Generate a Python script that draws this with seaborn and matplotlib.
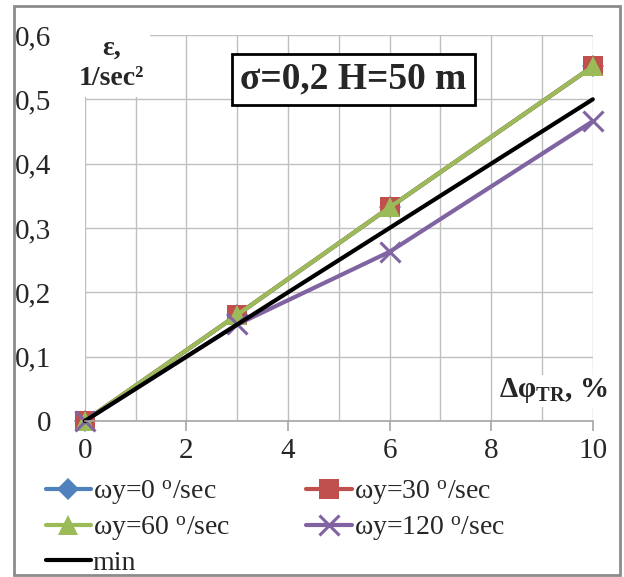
import numpy as np
import pandas as pd
import matplotlib
matplotlib.use("Agg")
import matplotlib.pyplot as plt
from matplotlib.ticker import FuncFormatter, MultipleLocator
from matplotlib.patches import Rectangle
import seaborn as sns

# ---- data ----
x_vals = [0, 3, 6, 10]
series_names = ["ωy=0 $^{\\mathrm{o}}$/sec", "ωy=30 $^{\\mathrm{o}}$/sec",
                "ωy=60 $^{\\mathrm{o}}$/sec", "ωy=120 $^{\\mathrm{o}}$/sec", "min"]
w0 = [0, 0.165, 0.332, 0.551]
w30 = [0, 0.165, 0.332, 0.551]
w60 = [0, 0.165, 0.332, 0.551]
w120 = [0, 0.150, 0.263, 0.466]
w_min = [0, 0.150, 0.300, 0.500]
x_ticks = [0, 2, 4, 6, 8, 10]
y_ticks = [0, 0.1, 0.2, 0.3, 0.4, 0.5, 0.6]

sns.set_style("white")
plt.rcParams['font.family'] = ['Liberation Serif', 'DejaVu Serif']
plt.rcParams['mathtext.fontset'] = 'custom'
plt.rcParams['mathtext.rm'] = 'Liberation Serif'
plt.rcParams['mathtext.it'] = 'Liberation Serif:italic'
plt.rcParams['mathtext.bf'] = 'Liberation Serif:bold'

df = pd.DataFrame({
    "x": x_vals * 5,
    "y": w0 + w30 + w60 + w120 + w_min,
    "series": sum([[n] * len(x_vals) for n in series_names], []),
})

colors = ["#4F81BD", "#C0504D", "#9BBB59", "#8064A2", "#000000"]
markers = ["D", "s", "^", "x", None]
msizes = [11, 14, 15, 15, 0]

fig = plt.figure(figsize=(6.24, 5.77), dpi=100)
ax = fig.add_axes([0.136, 0.2704, 0.814, 0.669])

handles = []
for name, c, m, ms in zip(series_names, colors, markers, msizes):
    sub = df[df["series"] == name]
    kw = dict(marker=m, markersize=ms) if m else {}
    if m == "x":
        kw["markeredgewidth"] = 2.2
        kw["markeredgecolor"] = c
    elif m:
        kw["markeredgewidth"] = 0
    sns.lineplot(data=sub, x="x", y="y", ax=ax, color=c, linewidth=3.0,
                 label=name, legend=False, clip_on=False, **kw)
    handles.append(ax.lines[-1])

ax.set_xlim(0, 10)
ax.set_ylim(0, 0.6)
ax.xaxis.set_minor_locator(MultipleLocator(1))
ax.set_xticks(x_ticks)
ax.set_yticks(y_ticks)
ax.grid(True, which="both", color="#BFBFBF", linewidth=1.0)
ax.set_axisbelow(True)
for s in ["top", "right", "left"]:
    ax.spines[s].set_visible(False)
ax.spines["bottom"].set_color("#A6A6A6")
ax.spines["bottom"].set_linewidth(1.2)

ax.xaxis.set_major_formatter(FuncFormatter(lambda v, p: f"{v:g}".replace(".", ",")))
ax.yaxis.set_major_formatter(FuncFormatter(lambda v, p: f"{v:.1f}".replace(".", ",") if v != 0 else "0"))
ax.tick_params(axis="x", which="major", direction="out", length=7, width=1.2,
               color="#A6A6A6", labelsize=21, pad=5, bottom=True)
ax.tick_params(axis="x", which="minor", length=0)
ax.tick_params(axis="y", length=0, labelsize=21, pad=24)
ax.set_xlabel("")
ax.set_ylabel("")

# y label with white background
ax.text(0.53, 0.556, "ε,\n1/sec²", transform=ax.transData, ha="center", va="center",
        fontsize=20, fontweight="bold", linespacing=1.3,
        bbox=dict(facecolor="white", edgecolor="none", pad=4), zorder=5)
ax.text(1.03, 0.078, "Δφ$_{\\mathbf{TR}}$, %", transform=ax.transAxes, ha="right",
        va="center", fontsize=21, fontweight="bold",
        bbox=dict(facecolor="white", edgecolor="none", pad=1), zorder=5)

# title box
ax.text(0.529, 0.885, "σ=0,2 H=50 m", transform=ax.transAxes, ha="center", va="center",
        fontsize=27, fontweight="bold",
        bbox=dict(facecolor="white", edgecolor="black", linewidth=2.0, pad=6), zorder=6)

order = [0, 2, 4, 1, 3]
fig.legend([handles[i] for i in order], [series_names[i] for i in order],
           loc="upper left", bbox_to_anchor=(0.073, 0.171), ncol=2, frameon=False,
           fontsize=20, handlelength=1.65, handletextpad=0.05, columnspacing=2.75,
           labelspacing=0.28, borderaxespad=0, borderpad=0)

fig.patches.append(Rectangle((0.022, 0.003), 0.972, 0.986, transform=fig.transFigure,
                             fill=False, edgecolor="#8C8C8C", linewidth=2.0))

fig.savefig("out.png", dpi=100)
